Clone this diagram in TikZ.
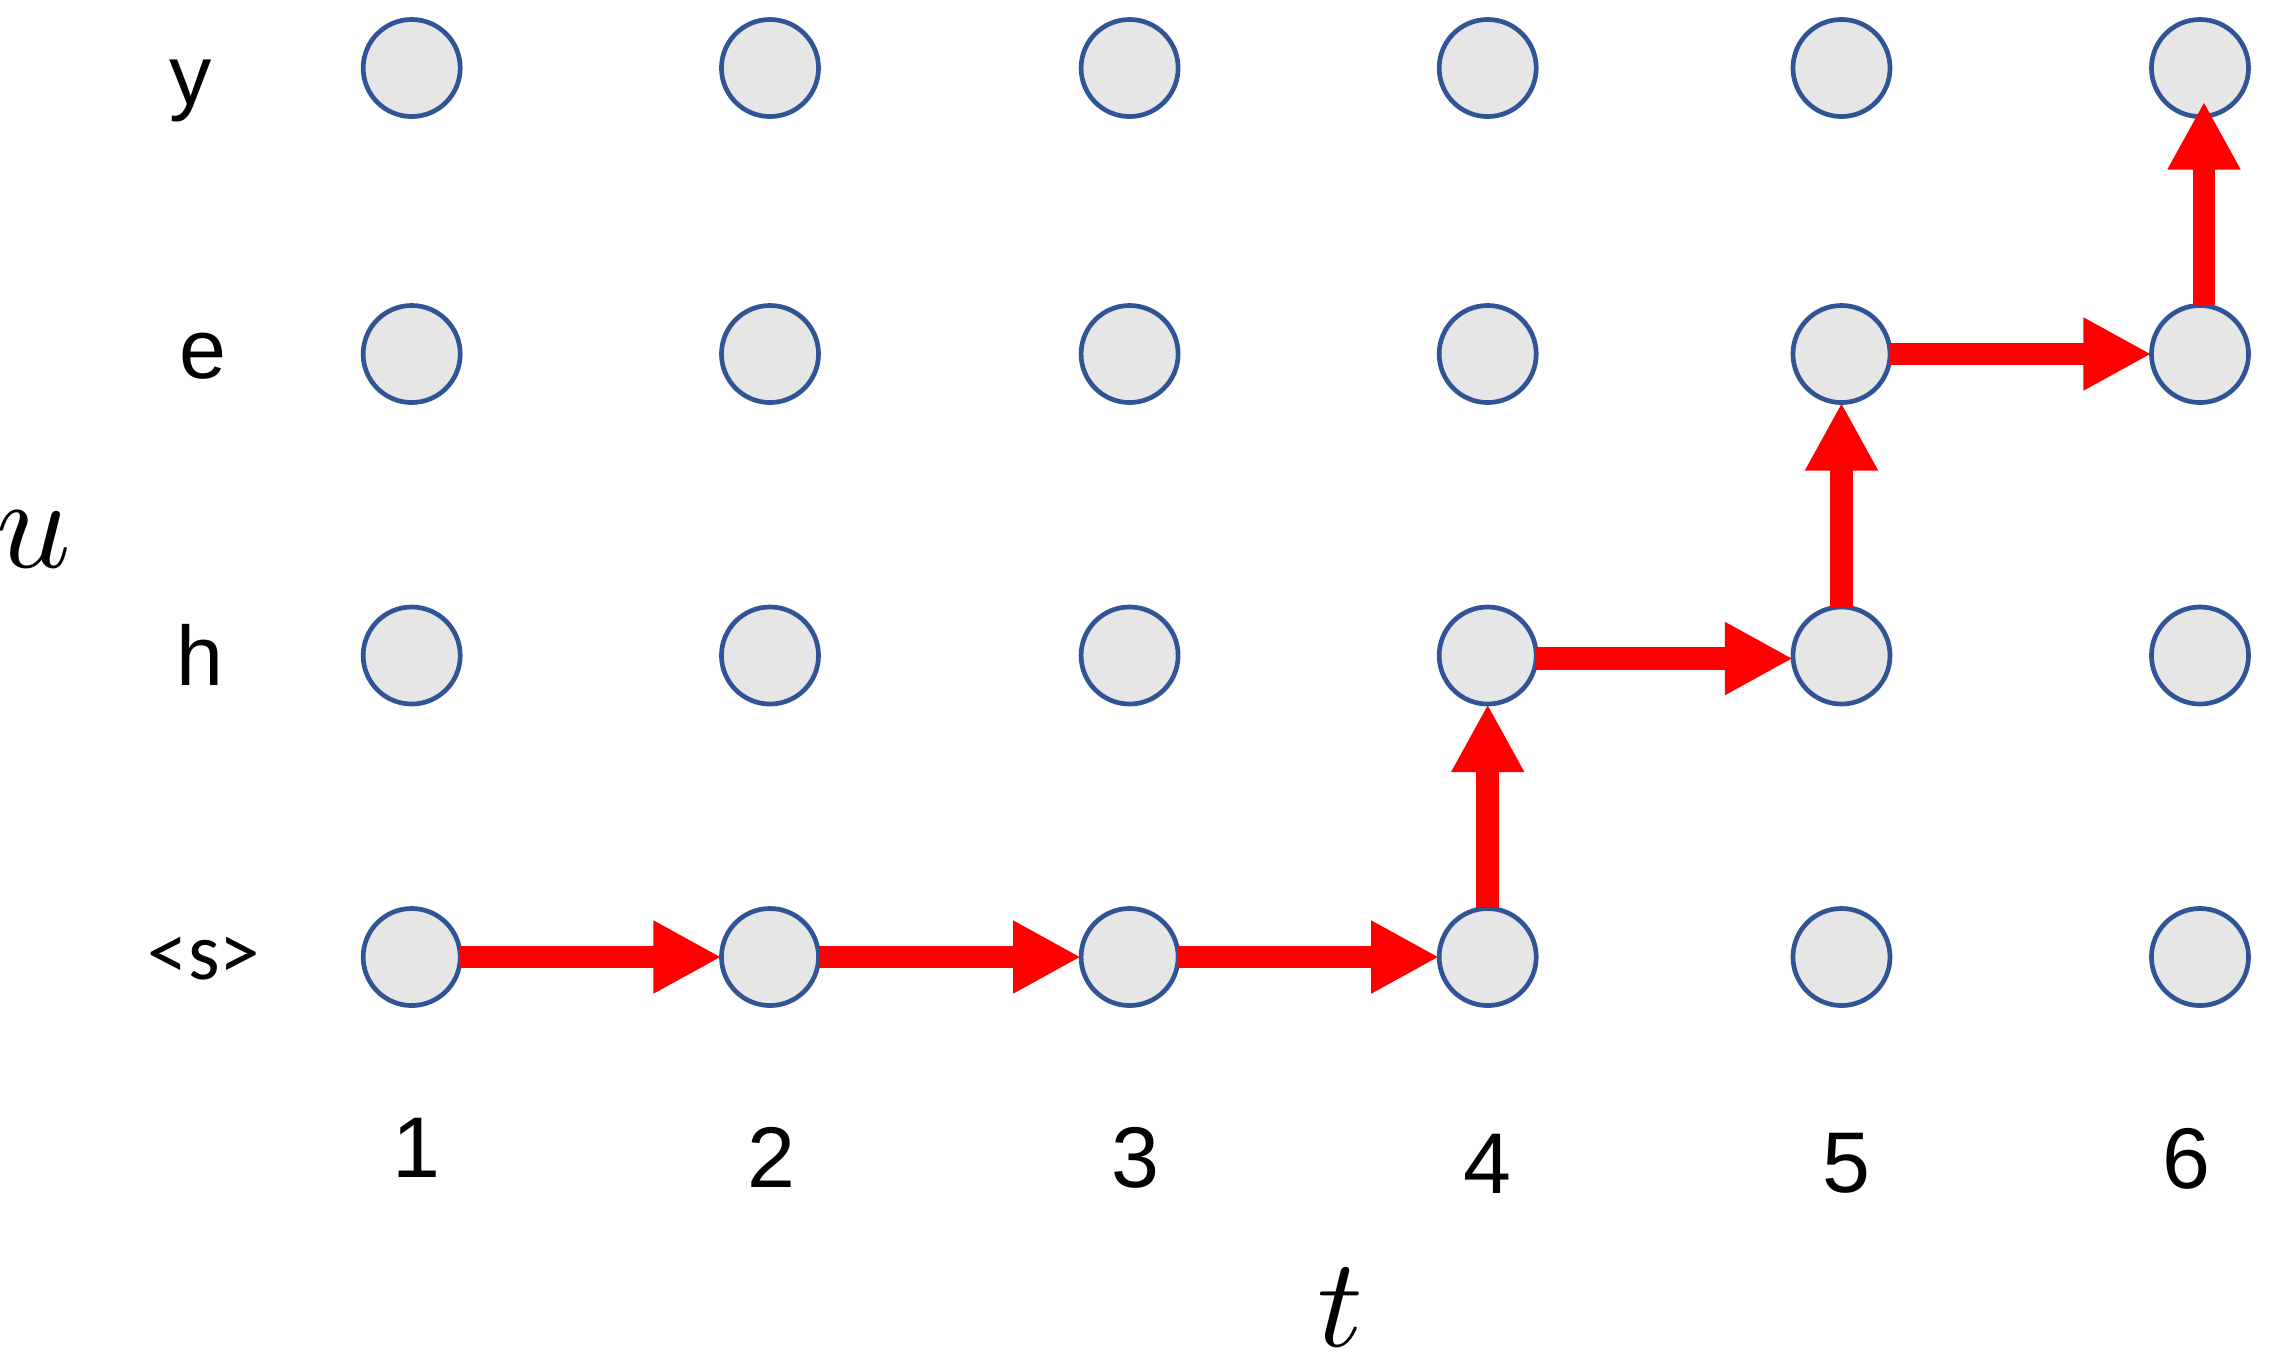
\documentclass[tikz,border=0pt]{standalone}
\usepackage{fontspec}
\setmainfont{Liberation Sans}
\newfontfamily\calibri{Carlito}
\usetikzlibrary{arrows.meta}
\definecolor{nodeblue}{HTML}{2F5597}
\definecolor{nodegray}{HTML}{E6E6E6}
\definecolor{pathred}{HTML}{FF0000}
\begin{document}
\begin{tikzpicture}[x=0.01cm,y=-0.01cm,
  cell/.style={circle,draw=nodeblue,fill=nodegray,line width=0.047cm,minimum size=0.97cm,inner sep=0pt,outer sep=0pt},
  rowlab/.style={font=\fontsize{24}{28}\selectfont,anchor=base,inner sep=0pt},
  collab/.style={font=\fontsize{24.5}{28}\selectfont,anchor=base,inner sep=0pt},
  axislab/.style={scale=3.6,anchor=base,inner sep=0pt},
  patharrow/.style={draw=pathred,line width=0.227cm,-{Triangle[width=0.68cm,length=0.68cm]}}]
\useasboundingbox (0,0) rectangle (2274,1362);
\foreach \x [count=\i] in {411.7,770,1129.6,1487.7,1841.5,2200} {
  \foreach \y/\r in {68/y,354/e,655.5/h,957/s} {
    \node[cell] (\r\i) at (\x,\y) {};
  }
}
% row labels
\node[rowlab] (ly) at (191,104.6) {y};
\node[rowlab] (le) at (202.5,378) {e};
\node[rowlab] (lh) at (200,685) {h};
\node[rowlab,font=\calibri\fontsize{23}{26}\selectfont] (ls) at (204,979) {<s>};
% column labels
\node[collab] (c1) at (416,1177) {1};
\node[collab] (c2) at (771,1187) {2};
\node[collab] (c3) at (1135,1187) {3};
\node[collab] (c4) at (1487,1193) {4};
\node[collab] (c5) at (1846,1192) {5};
\node[collab] (c6) at (2186,1188) {6};
% axis labels
\node[axislab,scale=1.03] (uax) at (34,567) {$u$};
\node[axislab] (tax) at (1340,1346) {$t$};
% path
\draw[patharrow] (s1.east) -- (s2.west);
\draw[patharrow] (s2.east) -- (s3.west);
\draw[patharrow] (s3.east) -- (s4.west);
\draw[patharrow] (s4.north) -- (h4.south);
\draw[patharrow] ([yshift=-0.03cm]h4.east) -- ([yshift=-0.03cm]h5.west);
\draw[patharrow] (h5.north) -- (e5.south);
\draw[patharrow] (e5.east) -- (e6.west);
\draw[patharrow,shorten >=-0.15cm] ([xshift=0.04cm]e6.north) -- ([xshift=0.04cm]y6.south);
\end{tikzpicture}
\end{document}
